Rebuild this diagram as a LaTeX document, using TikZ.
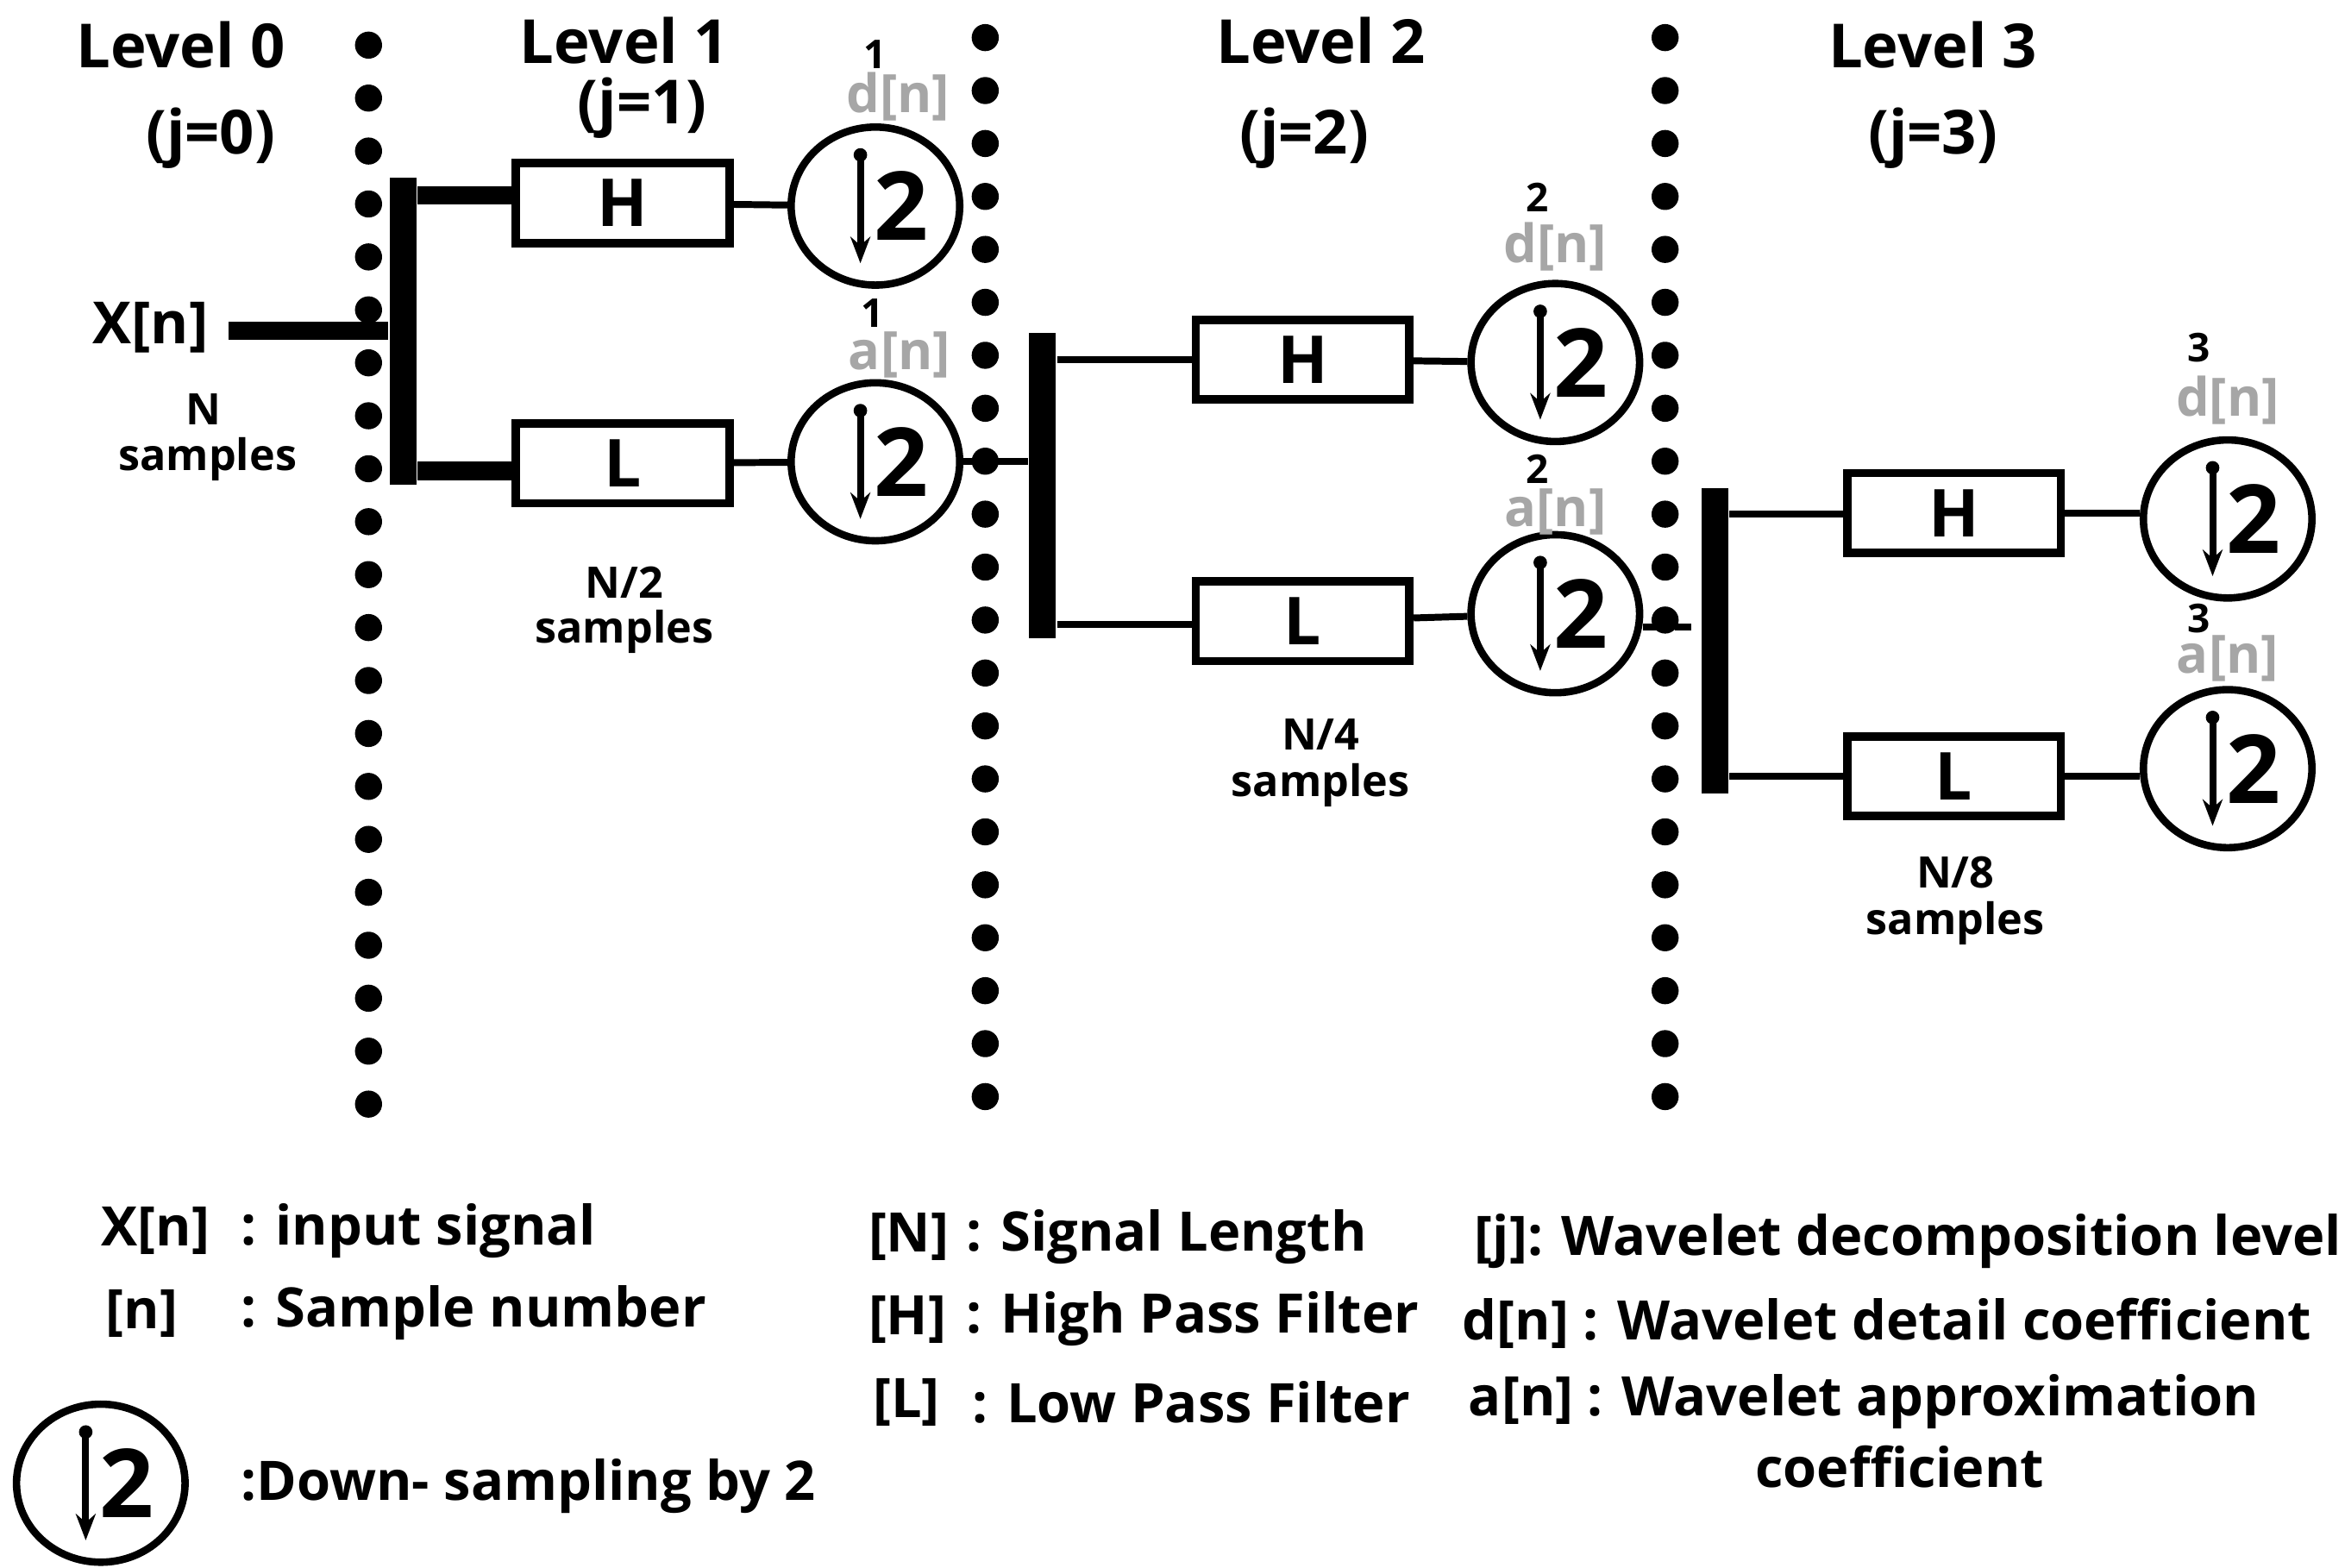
\documentclass[tikz,border=0pt]{standalone}
\usepackage{fontspec}
\setmainfont{Open Sans}
\usetikzlibrary{shapes.geometric,arrows.meta}
\begin{document}
\begin{tikzpicture}[x=0.01cm,y=-0.01cm,font=\bfseries,
  dotc/.style={fill=black,circle,inner sep=0,minimum size=0.18cm},
  bar/.style={fill=black,draw=none,inner sep=0,minimum width=0.18cm},
  box/.style={draw,line width=1.6pt,minimum width=1.42cm,minimum height=0.53cm,font=\bfseries\fontsize{12.5}{13}\selectfont,inner sep=0},
  ds/.style={draw,line width=1.4pt,ellipse,minimum width=1.12cm,minimum height=1.05cm,inner sep=0},
  lvl/.style={font=\bfseries\fontsize{11.5}{12}\selectfont},
  sm/.style={font=\bfseries\fontsize{8.2}{9}\selectfont},
  sup/.style={font=\bfseries\fontsize{7.5}{8}\selectfont,inner sep=0},
  gr/.style={font=\bfseries\fontsize{10}{11}\selectfont,text=gray!70,inner sep=0},
  leg/.style={font=\bfseries\fontsize{10.3}{11}\selectfont,anchor=west},
  ln/.style={line width=1.3pt},
  tk/.style={line width=3.5pt}]
\useasboundingbox (0,0) rectangle (1559,1042);
% dots
\foreach \i in {0,...,20} \node[dotc] (da\i) at (245,30+35.2*\i) {};
\foreach \i in {0,...,20} \node[dotc] (db\i) at (655,25+35.2*\i) {};
\foreach \i in {0,...,20} \node[dotc] (dc\i) at (1107,25+35.2*\i) {};
% downsampler symbol
\newcommand{\dsym}[2]{%
 \node[ds] (#1) at #2 {};
 \draw[line width=1.3pt,-{Stealth[length=5pt]}] ([xshift=-0.1cm,yshift=0.34cm]#1.center) -- ([xshift=-0.1cm,yshift=-0.38cm]#1.center);
 \fill ([xshift=-0.1cm,yshift=0.34cm]#1.center) circle (0.045cm);
 \node[font=\bfseries\fontsize{18}{18}\selectfont,inner sep=0] at ([xshift=0.17cm]#1.center) {2};}
% titles
\node[lvl] (t0) at (120,30) {Level 0}; \node[lvl] (j0) at (140,92) {(j=0)};
\node[lvl] (t1) at (415,27) {Level 1}; \node[lvl] (j1) at (427,72) {(j=1)};
\node[lvl] (t2) at (878,27) {Level 2}; \node[lvl] (j2) at (867,92) {(j=2)};
\node[lvl] (t3) at (1285,30) {Level 3}; \node[lvl] (j3) at (1285,92) {(j=3)};
% Level 1
\node[bar,minimum height=2.04cm] (b1) at (268,220) {};
\node[font=\bfseries\fontsize{11}{12}\selectfont] (x) at (100,218) {X[n]};
\coordinate (xs) at (152,220);
\draw[tk] (xs) -- (b1.west|-xs);
\node[sm] (ns1) at (135,272) {N}; \node[sm] (ns2) at (138,305) {samples};
\node[box] (h1) at (414,135) {H}; \node[box] (l1) at (414,308) {L};
\draw[tk] (b1.east|-0,130) -- (h1.west|-0,130);
\draw[tk] (b1.east|-0,313) -- (l1.west|-0,313);
\dsym{c1}{(582,137)} \dsym{c2}{(582,307)}
\draw[ln] (h1) -- (c1); \draw[ln] (l1) -- (c2);
\node[sup] at (582,36) {1}; \node[gr] at (597,64) {d[n]};
\node[sup] at (580,208) {1}; \node[gr] at (598,236) {a[n]};
\node[sm] at (415,387) {N/2}; \node[sm] at (415,420) {samples};
% Level 2
\node[bar,minimum height=2.03cm] (b2) at (693,323) {};
\draw[ln] (c2) -- (b2.west|-c2);
\node[box] (h2) at (866,239) {H}; \node[box] (l2) at (866,413) {L};
\draw[ln] (b2.east|-h2) -- (h2); \draw[ln] (b2.east|-0,415) -- (l2.west|-0,415);
\dsym{c3}{(1034,241)} \dsym{c4}{(1034,408)}
\draw[ln] (h2) -- (c3); \draw[ln] (l2) -- (c4);
\node[sup] at (1022,131) {2}; \node[gr] at (1034,164) {d[n]};
\node[sup] at (1022,312) {2}; \node[gr] at (1034,340) {a[n]};
\node[sm] at (878,488) {N/4}; \node[sm] at (878,522) {samples};
% Level 3
\node[bar,minimum height=2.03cm] (b3) at (1140,426) {};
\draw[ln,dashed] (c4.east|-0,417) -- (b3.west|-0,417);
\node[box] (h3) at (1299,341) {H}; \node[box] (l3) at (1299,516) {L};
\draw[ln] (b3.east|-0,342) -- (h3.west|-0,342); \draw[ln] (b3.east|-l3) -- (l3);
\dsym{c5}{(1481,345)} \dsym{c6}{(1481,511)}
\draw[ln] (h3) -- (c5.west|-h3); \draw[ln] (l3) -- (c6.west|-l3);
\node[sup] at (1462,231) {3}; \node[gr] at (1481,266) {d[n]};
\node[sup] at (1462,411) {3}; \node[gr] at (1481,438) {a[n]};
\node[sm] at (1300,580) {N/8}; \node[sm] at (1300,614) {samples};
% legend
\node[leg] at (55,818) {X[n]}; \node[leg] at (148,818) {: input signal};
\node[leg] at (58,873) {[n]}; \node[leg] at (148,873) {: Sample number};
\dsym{lc}{(67,986)}
\node[leg] at (148,988) {:Down- sampling by 2};
\node[leg] at (565,822) {[N]}; \node[leg] at (630,822) {: Signal Length};
\node[leg] at (565,877) {[H]}; \node[leg] at (630,877) {: High Pass Filter};
\node[leg] at (568,932) {[L]}; \node[leg] at (634,932) {: Low Pass Filter};
\node[leg] at (968,825) {[j]: Wavelet decomposition level};
\node[leg] at (960,880) {d[n] : Wavelet detail coefficient};
\node[leg] at (964,932) {a[n] : Wavelet approximation};
\node[leg,anchor=center] at (1263,975) {coefficient};
\end{tikzpicture}
\end{document}
